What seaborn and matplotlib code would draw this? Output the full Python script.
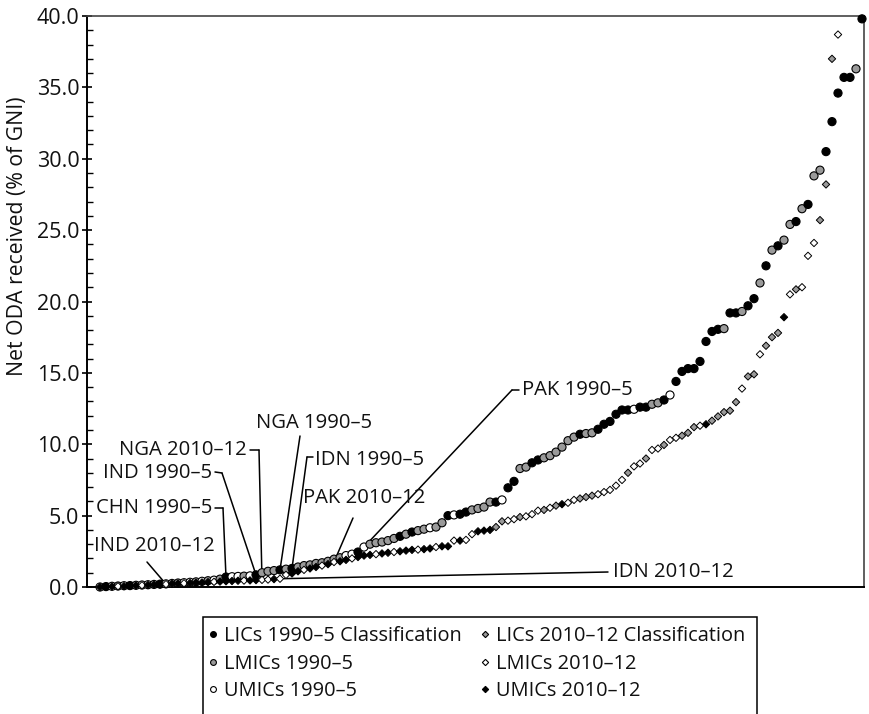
import numpy as np
import pandas as pd
import matplotlib
matplotlib.use("Agg")
import matplotlib.pyplot as plt
import seaborn as sns
from matplotlib.lines import Line2D
from matplotlib.patches import Rectangle
from matplotlib.ticker import MultipleLocator
from matplotlib.transforms import IdentityTransform

# ---------------- data ----------------
# 1990-5 classification (circles), countries ranked by net ODA (% of GNI)
oda_1990 = [
    0.00, 0.03, 0.05, 0.07, 0.09, 0.10, 0.12, 0.14, 0.16, 0.18, 0.20, 0.22, 0.25, 0.28,
    0.30, 0.33, 0.36, 0.40, 0.44, 0.48, 0.55, 0.70, 0.72, 0.74, 0.76, 0.78, 0.85,
    1.00, 1.10, 1.15, 1.20, 1.25, 1.30, 1.40, 1.50, 1.55, 1.65, 1.70, 1.80, 1.95, 2.05,
    2.20, 2.30, 2.45, 2.80, 3.00, 3.10, 3.15, 3.25, 3.40, 3.55, 3.70, 3.85, 3.95, 4.05,
    4.15, 4.20, 4.50, 5.00, 5.05, 5.10, 5.25, 5.40, 5.50, 5.60, 5.95, 5.95, 6.10, 6.95,
    7.40, 8.30, 8.40, 8.70, 8.90, 9.05, 9.20, 9.45, 9.80, 10.25, 10.50, 10.70, 10.75, 10.80,
    11.05, 11.40, 11.60, 12.10, 12.40, 12.40, 12.45, 12.60, 12.60, 12.80, 12.90, 13.10, 13.45,
    14.40, 15.10, 15.30, 15.30, 15.80, 17.20, 17.90, 18.05, 18.10, 19.20, 19.20, 19.30, 19.70,
    20.20, 21.30, 22.50, 23.60, 23.90, 24.30, 25.40, 25.60, 26.50, 26.80, 28.80, 29.20, 30.50,
    32.60, 34.60, 35.70, 35.70, 36.30, 39.80,
]
class_1990 = list(
    "ULUMULMUUMLUMMUUMUMUMLUUMUL"
    "MMMLMLMMMMMMMMUULUMMMMMLMLMM"
    "UMMLULLMMMMLULLMMLLMMMMMMLMM"
    "LLLLLLULLMMLULLLLLLLLMLLMLLMLMLMMLMLMMLLLLLML"
)

# 2010-12 classification (diamonds)
oda_2010 = [
    0.00, 0.02, 0.04, 0.05, 0.06, 0.08, 0.10, 0.12, 0.14, 0.15, 0.17, 0.20, 0.22, 0.24,
    0.26, 0.28, 0.30, 0.32, 0.34, 0.36, 0.38, 0.40, 0.42, 0.44, 0.45, 0.46, 0.48,
    0.50, 0.52, 0.55, 0.58, 0.85, 0.95, 1.10, 1.20, 1.30, 1.40, 1.50, 1.60, 1.75, 1.80,
    1.90, 2.00, 2.10, 2.20, 2.25, 2.30, 2.35, 2.40, 2.45, 2.50, 2.55, 2.60, 2.62, 2.65,
    2.70, 2.80, 2.85, 2.85, 3.25, 3.25, 3.30, 3.70, 3.90, 3.95, 4.00, 4.20, 4.60, 4.65,
    4.75, 4.90, 4.95, 5.10, 5.35, 5.40, 5.55, 5.70, 5.80, 5.90, 6.10, 6.20, 6.30, 6.40,
    6.50, 6.65, 6.80, 7.10, 7.50, 8.00, 8.45, 8.65, 9.00, 9.60, 9.70, 9.95, 10.30, 10.45,
    10.60, 10.80, 11.20, 11.30, 11.40, 11.65, 11.95, 12.25, 12.35, 12.95, 13.90, 14.75,
    14.90, 16.30, 16.90, 17.50, 17.80, 18.90, 20.50, 20.85, 21.00, 23.20, 24.10, 25.70,
    28.20, 37.00, 38.70,
]
class_2010 = list(
    "UUUMUUUMUUUMUUMUUUUMUUUUMUU"
    "MMUMMUUMUUMUMUUMUUUMUUMUUUMU"
    "UMUUMUMMUUULLMMLMMMLMLUMMLLL"
    "MMMMMLMMLMMLMMLLLMULLLLLMLLMLLLUMLMMMLLLM"
)

labels_1990 = {"L": "LICs 1990–5 Classification", "M": "LMICs 1990–5", "U": "UMICs 1990–5"}
labels_2010 = {"L": "LICs 2010–12 Classification", "M": "LMICs 2010–12", "U": "UMICs 2010–12"}

# annotations: (text, series, rank index)
annotations = [
    ("PAK 1990–5", "1990", 44),
    ("NGA 1990–5", "1990", 30),
    ("NGA 2010–12", "2010", 27),
    ("IDN 1990–5", "1990", 32),
    ("IND 1990–5", "1990", 26),
    ("PAK 2010–12", "2010", 39),
    ("CHN 1990–5", "1990", 21),
    ("IND 2010–12", "2010", 11),
    ("IDN 2010–12", "2010", 30),
]

# ---------------- styling ----------------
sns.set_theme(style="white")
plt.rcParams["font.family"] = ["Open Sans", "DejaVu Sans"]
FS_ANN = 14.6
FS_TICK = 15.5
FS_LEG = 14.4
FS_YLAB = 15.3
W, H = 869, 714

pal_1990 = {"L": "black", "M": "#9a9a9a", "U": "white"}
pal_2010 = {"L": "#9a9a9a", "M": "white", "U": "black"}

df90 = pd.DataFrame({"rank": np.arange(len(oda_1990)), "oda": oda_1990, "cls": class_1990})
df10 = pd.DataFrame({"rank": np.arange(len(oda_2010)), "oda": oda_2010, "cls": class_2010})

fig = plt.figure(figsize=(W / 100, H / 100), dpi=100)
ax_w = 863.5 - 87
ax = fig.add_axes([87 / W, 1 - 587 / H, ax_w / W, (587 - 16) / H])

sns.scatterplot(data=df90, x="rank", y="oda", hue="cls", palette=pal_1990, marker="o",
                s=34, edgecolor="black", linewidth=0.8, legend=False, ax=ax,
                zorder=3, clip_on=False)
sns.scatterplot(data=df10, x="rank", y="oda", hue="cls", palette=pal_2010, marker="D",
                s=14, edgecolor="black", linewidth=0.7, legend=False, ax=ax,
                zorder=4, clip_on=False)

ax.set_xlim(-13 / 6, 127 + 1.5 / 6)
ax.set_ylim(0, 40)
ax.set_xticks([])
ax.set_xlabel("")
ax.set_yticks(np.arange(0, 41, 5))
ax.yaxis.set_major_formatter(matplotlib.ticker.FormatStrFormatter("%.1f"))
ax.yaxis.set_minor_locator(MultipleLocator(1))
ax.tick_params(axis="y", which="major", direction="inout", length=7, width=1.2,
               labelsize=FS_TICK, color="black", pad=2, left=True, labelcolor="#111111")
ax.tick_params(axis="y", which="minor", direction="in", length=4, width=1,
               color="black", left=True)
ax.set_ylabel("Net ODA received (% of GNI)", fontsize=FS_YLAB, color="#111111")
ax.yaxis.set_label_coords((28 - 87) / ax_w, (587 - 236) / (587 - 16))
for side in ["left", "bottom"]:
    ax.spines[side].set_color("black")
    ax.spines[side].set_linewidth(1.4)
for side in ["top", "right"]:
    ax.spines[side].set_color("#444444")
    ax.spines[side].set_linewidth(1.2)

# ---------------- annotations ----------------
# text anchor (figure pixels from top-left), alignment, leader polyline start (pixels)
layout = {
    "PAK 1990–5": dict(txt=(522, 390), ha="left", path=[(519, 390), (512, 390)]),
    "NGA 1990–5": dict(txt=(256, 423), ha="left", path=[(300, 436)]),
    "NGA 2010–12": dict(txt=(247, 450), ha="right", path=[(250, 450), (259, 450)]),
    "IDN 1990–5": dict(txt=(315, 460), ha="left", path=[(313, 457), (307, 457)]),
    "IND 1990–5": dict(txt=(212, 473), ha="right", path=[(215, 472), (222, 473)]),
    "PAK 2010–12": dict(txt=(303, 498), ha="left", path=[(353, 518)]),
    "CHN 1990–5": dict(txt=(212, 508), ha="right", path=[(215, 508), (223, 508)]),
    "IND 2010–12": dict(txt=(215, 546), ha="right", path=[(147, 562)]),
    "IDN 2010–12": dict(txt=(613, 572), ha="left", path=[(608, 572)]),
}
series = {"1990": oda_1990, "2010": oda_2010}
for text, ser, idx in annotations:
    lay = layout[text]
    tx, ty = lay["txt"]
    ax.annotate(text, xy=(tx, H - ty), xycoords="figure pixels", ha=lay["ha"],
                va="center", fontsize=FS_ANN, color="#111111")
    pts = [(x, H - y) for x, y in lay["path"]]
    if len(pts) > 1:
        xs, ys = zip(*pts)
        fig.add_artist(Line2D(xs, ys, transform=IdentityTransform(), color="black", lw=1.1))
    ax.annotate("", xy=(idx, series[ser][idx]), xycoords="data",
                xytext=pts[-1], textcoords="figure pixels",
                arrowprops=dict(arrowstyle="-", lw=1.1, color="black",
                                shrinkA=0, shrinkB=3), zorder=2)

# ---------------- legend ----------------
handles, labels = [], []
for k in ["L", "M", "U"]:
    handles.append(Line2D([], [], ls="", marker="o", ms=4.2, mfc=pal_1990[k], mec="black", mew=0.8))
    labels.append(labels_1990[k])
for k in ["L", "M", "U"]:
    handles.append(Line2D([], [], ls="", marker="D", ms=3.2, mfc=pal_2010[k], mec="black", mew=0.8))
    labels.append(labels_2010[k])
fig.legend(handles, labels, ncol=2, loc="upper left",
           bbox_to_anchor=(208 / W, 1 - 626 / H), frameon=False, fontsize=FS_LEG,
           handlelength=0.5, handletextpad=0.3, columnspacing=0.9,
           labelspacing=0.38, borderaxespad=0, borderpad=0, labelcolor="#111111")
fig.add_artist(Rectangle((203, H - 780), 757 - 203, 780 - 617, transform=IdentityTransform(),
                         fill=False, edgecolor="black", lw=1.1, clip_on=False))

fig.savefig("out.png", dpi=100)
